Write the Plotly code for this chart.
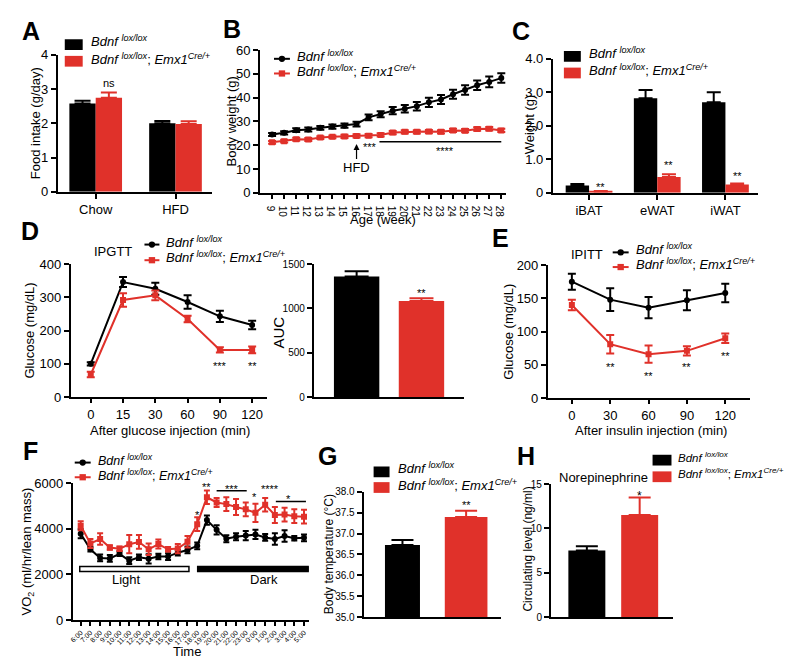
import plotly.graph_objects as go

W, H = 800, 671
FONT = "Arial, Liberation Sans, Helvetica, sans-serif"
BLACK = "#000000"
RED = "#E0312A"

CTRL_LABEL = "<i>Bdnf</i> <sup><i>lox/lox</i></sup>"
KO_LABEL = "<i>Bdnf</i> <sup><i>lox/lox</i></sup>; <i>Emx1</i><sup><i>Cre/+</i></sup>"

# ---------------- data ----------------
# A: food intake
a_cats = ["Chow", "HFD"]
a_ctrl = [2.58, 2.0]
a_ctrl_err = [0.08, 0.07]
a_ko = [2.75, 1.98]
a_ko_err = [0.15, 0.08]

# B: body weight
b_weeks = list(range(9, 29))
b_ctrl = [24.5, 25.2, 26.3, 26.6, 27.3, 27.8, 28.2, 28.9, 31.7, 33.0,
          34.5, 35.3, 36.4, 38.0, 39.2, 41.4, 43.2, 45.2, 46.6, 48.2]
b_ctrl_err = [0.6, 0.7, 0.8, 0.8, 0.8, 0.9, 0.9, 1.0, 1.2, 1.3,
              1.5, 1.6, 1.8, 1.9, 1.9, 1.9, 2.0, 2.0, 2.3, 2.0]
b_ko = [21.2, 21.7, 22.5, 22.4, 23.2, 23.5, 23.7, 23.9, 24.0, 24.3,
        25.3, 25.6, 25.6, 25.7, 25.6, 26.2, 26.1, 26.8, 26.9, 26.2]
b_ko_err = [0.6, 0.6, 0.6, 0.6, 0.6, 0.6, 0.7, 0.7, 0.7, 0.7,
            0.7, 0.7, 0.7, 0.7, 0.7, 0.7, 0.7, 0.7, 0.7, 0.7]

# C: fat pad weight
c_cats = ["iBAT", "eWAT", "iWAT"]
c_ctrl = [0.22, 2.82, 2.70]
c_ctrl_err = [0.04, 0.25, 0.30]
c_ko = [0.04, 0.47, 0.25]
c_ko_err = [0.01, 0.08, 0.03]

# D: IPGTT
d_times = ["0", "15", "30", "60", "90", "120"]
d_ctrl = [100, 346, 326, 286, 243, 217]
d_ctrl_err = [5, 15, 18, 20, 17, 13]
d_ko = [68, 292, 306, 235, 142, 142]
d_ko_err = [8, 20, 15, 10, 8, 10]
auc_groups = ["Bdnf lox/lox", "Bdnf lox/lox; Emx1 Cre/+"]
auc_vals = [1360, 1085]
auc_err = [60, 30]

# E: IPITT
e_times = [0, 30, 60, 90, 120]
e_ctrl = [175, 148, 136, 147, 158]
e_ctrl_err = [12, 17, 16, 15, 14]
e_ko = [140, 81, 66, 71, 90]
e_ko_err = [8, 14, 13, 7, 7]

# F: VO2
f_times = ["6:00", "7:00", "8:00", "9:00", "10:00", "11:00", "12:00", "13:00",
           "14:00", "15:00", "16:00", "17:00", "18:00", "19:00", "20:00", "21:00",
           "22:00", "23:00", "0:00", "1:00", "2:00", "3:00", "4:00", "5:00"]
f_ctrl = [3780, 3100, 2720, 2700, 2900, 2600, 2750, 2680, 2780, 2780, 2950, 3070,
          3250, 4380, 3950, 3560, 3650, 3700, 3750, 3620, 3550, 3680, 3580, 3600]
f_ctrl_err = [200, 100, 150, 150, 100, 150, 120, 200, 120, 150, 120, 150,
              150, 200, 200, 150, 150, 200, 200, 150, 250, 250, 100, 150]
f_ko = [4130, 3350, 3550, 3180, 3120, 3320, 3420, 3100, 3330, 3100, 3130, 3430,
        4200, 5380, 5150, 5080, 4950, 4850, 4700, 5050, 4600, 4620, 4550, 4530]
f_ko_err = [200, 200, 250, 100, 100, 400, 300, 250, 200, 100, 200, 250,
            300, 300, 200, 300, 350, 300, 400, 300, 350, 300, 300, 300]

# G: body temperature
g_groups = ["Bdnf lox/lox", "Bdnf lox/lox; Emx1 Cre/+"]
g_vals = [36.73, 37.40]
g_err = [0.12, 0.15]
g_base = 35

# H: norepinephrine
h_groups = ["Bdnf lox/lox", "Bdnf lox/lox; Emx1 Cre/+"]
h_vals = [7.5, 11.5]
h_err = [0.5, 2.0]

# ---------------- helpers ----------------
def xdom(l, r):
    return [l / W, r / W]


def ydom(top, bottom):
    return [1 - bottom / H, 1 - top / H]


def px(x):
    return x / W


def py(y):
    return 1 - y / H


def axis(dom, anchor, **kw):
    d = dict(domain=dom, anchor=anchor, showline=True, linecolor="black", linewidth=2,
             ticks="outside", ticklen=5, tickwidth=2, tickcolor="black",
             showgrid=False, zeroline=False, fixedrange=True,
             tickfont=dict(family=FONT, size=13, color="black"))
    d.update(kw)
    return d


def err(arr, color, w=6, lower=True):
    d = dict(type="data", array=arr, color=color, thickness=2, width=w, visible=True)
    if not lower:
        d["symmetric"] = False
        d["arrayminus"] = [0] * len(arr)
    return d


fig = go.Figure()
annotations = []
shapes = []


def text(x, y, s, size=13, xanchor="center", yanchor="middle", angle=0, bold=False, color="#000000"):
    if bold:
        s = "<b>" + s + "</b>"
    annotations.append(dict(x=px(x), y=py(y), xref="paper", yref="paper", text=s,
                            showarrow=False, xanchor=xanchor, yanchor=yanchor,
                            textangle=angle,
                            font=dict(family=FONT, size=size, color=color)))


def dtext(xr, yr, x, y, s, size=11, color="#000000"):
    annotations.append(dict(x=x, y=y, xref=xr, yref=yr, text=s, showarrow=False,
                            font=dict(family=FONT, size=size, color=color)))


def leg_square(x0, y0, x1, y1, color):
    shapes.append(dict(type="rect", xref="paper", yref="paper", x0=px(x0), x1=px(x1),
                       y0=py(y1), y1=py(y0), fillcolor=color, line=dict(width=0)))


def leg_line(x0, x1, y, color, symbol):
    shapes.append(dict(type="line", xref="paper", yref="paper", x0=px(x0), x1=px(x1),
                       y0=py(y), y1=py(y), line=dict(color=color, width=2)))
    cx = (x0 + x1) / 2
    r = 3.2
    shapes.append(dict(type="circle" if symbol == "circle" else "rect",
                       xref="paper", yref="paper", x0=px(cx - r), x1=px(cx + r),
                       y0=py(y + r), y1=py(y - r), fillcolor=color, line=dict(width=0)))


def leg_text(x, y, s, size=13):
    # superscripts enlarge the text box upward, so lift the anchor a little
    text(x, y - 3, s, size, "left")


def ko_ctrl_lines(xr, yr, x, yc, yc_err, yk, yk_err, cap=4):
    fig.add_trace(go.Scatter(x=x, y=yc, mode="lines+markers", xaxis=xr, yaxis=yr,
                             line=dict(color=BLACK, width=2),
                             marker=dict(symbol="circle", size=6, color=BLACK),
                             error_y=err(yc_err, BLACK, cap), showlegend=False))
    fig.add_trace(go.Scatter(x=x, y=yk, mode="lines+markers", xaxis=xr, yaxis=yr,
                             line=dict(color=RED, width=2),
                             marker=dict(symbol="square", size=6, color=RED),
                             error_y=err(yk_err, RED, cap), showlegend=False))


# ---------------- A ----------------
fig.add_trace(go.Bar(x=a_cats, y=a_ctrl, xaxis="x", yaxis="y", width=0.33, offset=-0.33,
                     marker=dict(color=BLACK, line=dict(width=0)),
                     error_y=err(a_ctrl_err, BLACK, 8, False), showlegend=False))
fig.add_trace(go.Bar(x=a_cats, y=a_ko, xaxis="x", yaxis="y", width=0.33, offset=0,
                     marker=dict(color=RED, line=dict(width=0)),
                     error_y=err(a_ko_err, RED, 8, False), showlegend=False))
dtext("x", "y", 0.165, 3.17, "ns", 11)

# ---------------- B ----------------
ko_ctrl_lines("x2", "y2", b_weeks, b_ctrl, b_ctrl_err, b_ko, b_ko_err)
annotations.append(dict(x=16, y=20.5, xref="x2", yref="y2", text="HFD", showarrow=True,
                        ax=0, ay=24, arrowhead=2, arrowsize=1, arrowwidth=1.2,
                        arrowcolor="black", font=dict(family=FONT, size=13, color="#000000")))
dtext("x2", "y2", 17.1, 19.2, "***", 11)
shapes.append(dict(type="line", xref="x2", yref="y2", x0=17.9, x1=28, y0=21.4, y1=21.4,
                   line=dict(color="black", width=1.5)))
dtext("x2", "y2", 23.3, 17.5, "****", 11)

# ---------------- C ----------------
fig.add_trace(go.Bar(x=c_cats, y=c_ctrl, xaxis="x3", yaxis="y3", width=0.343, offset=-0.343,
                     marker=dict(color=BLACK, line=dict(width=0)),
                     error_y=err(c_ctrl_err, BLACK, 7, False), showlegend=False))
fig.add_trace(go.Bar(x=c_cats, y=c_ko, xaxis="x3", yaxis="y3", width=0.343, offset=0,
                     marker=dict(color=RED, line=dict(width=0)),
                     error_y=err(c_ko_err, RED, 7, False), showlegend=False))
for i, yv in enumerate([0.16, 0.82, 0.5]):
    dtext("x3", "y3", i + 0.17, yv, "**", 11)

# ---------------- D ----------------
ko_ctrl_lines("x4", "y4", d_times, d_ctrl, d_ctrl_err, d_ko, d_ko_err)
dtext("x4", "y4", 4, 93, "***", 11)
dtext("x4", "y4", 5, 93, "**", 11)

fig.add_trace(go.Bar(x=auc_groups[:1], y=auc_vals[:1], xaxis="x5", yaxis="y5", width=0.7,
                     marker=dict(color=BLACK, line=dict(width=0)),
                     error_y=err(auc_err[:1], BLACK, 12, False), showlegend=False))
fig.add_trace(go.Bar(x=auc_groups[1:], y=auc_vals[1:], xaxis="x5", yaxis="y5", width=0.7,
                     marker=dict(color=RED, line=dict(width=0)),
                     error_y=err(auc_err[1:], RED, 12, False), showlegend=False))
dtext("x5", "y5", 1, 1170, "**", 11)

# ---------------- E ----------------
ko_ctrl_lines("x6", "y6", e_times, e_ctrl, e_ctrl_err, e_ko, e_ko_err)
for xv, yv in zip([30, 60, 90, 120], [46, 33, 46, 63]):
    dtext("x6", "y6", xv, yv, "**", 11)

# ---------------- F ----------------
ko_ctrl_lines("x7", "y7", f_times, f_ctrl, f_ctrl_err, f_ko, f_ko_err, cap=3)
shapes.append(dict(type="rect", xref="x7", yref="y7", x0=-0.1, x1=11.15, y0=2120, y1=2340,
                   fillcolor="white", line=dict(color="black", width=1.5)))
shapes.append(dict(type="rect", xref="x7", yref="y7", x0=12.05, x1=23.5, y0=2120, y1=2340,
                   fillcolor="black", line=dict(color="black", width=1.5)))
dtext("x7", "y7", 4.7, 1770, "Light", 13)
dtext("x7", "y7", 18.9, 1770, "Dark", 13)
shapes.append(dict(type="line", xref="x7", yref="y7", x0=14.0, x1=17.1, y0=5660, y1=5660,
                   line=dict(color="black", width=1.5)))
shapes.append(dict(type="line", xref="x7", yref="y7", x0=20.1, x1=23.2, y0=5190, y1=5190,
                   line=dict(color="black", width=1.5)))
dtext("x7", "y7", 12, 4600, "*", 11)
dtext("x7", "y7", 13, 5850, "**", 11)
dtext("x7", "y7", 15.6, 5740, "***", 11)
dtext("x7", "y7", 17.9, 5370, "*", 11)
dtext("x7", "y7", 19.5, 5740, "****", 11)
dtext("x7", "y7", 21.4, 5310, "*", 11)

# ---------------- G ----------------
fig.add_trace(go.Bar(x=g_groups[:1], y=[v - g_base for v in g_vals[:1]], base=g_base,
                     xaxis="x8", yaxis="y8", width=0.55,
                     marker=dict(color=BLACK, line=dict(width=0)),
                     error_y=err(g_err[:1], BLACK, 11, False), showlegend=False))
fig.add_trace(go.Bar(x=g_groups[1:], y=[v - g_base for v in g_vals[1:]], base=g_base,
                     xaxis="x8", yaxis="y8", width=0.67,
                     marker=dict(color=RED, line=dict(width=0)),
                     error_y=err(g_err[1:], RED, 11, False), showlegend=False))
dtext("x8", "y8", 1, 37.68, "**", 11)

# ---------------- H ----------------
fig.add_trace(go.Bar(x=h_groups[:1], y=h_vals[:1], xaxis="x9", yaxis="y9", width=0.7,
                     marker=dict(color=BLACK, line=dict(width=0)),
                     error_y=err(h_err[:1], BLACK, 11, False), showlegend=False))
fig.add_trace(go.Bar(x=h_groups[1:], y=h_vals[1:], xaxis="x9", yaxis="y9", width=0.7,
                     marker=dict(color=RED, line=dict(width=0)),
                     error_y=err(h_err[1:], RED, 11, False), showlegend=False))
dtext("x9", "y9", 1, 13.7, "*", 12)

# ---------------- legends & labels ----------------
# A
leg_square(62, 33, 80, 44, BLACK)
leg_square(62, 50, 80, 61, RED)
leg_text(86, 38, CTRL_LABEL)
leg_text(86, 56, KO_LABEL)
# B
leg_line(272, 288, 53, BLACK, "circle")
leg_line(272, 288, 68, RED, "square")
leg_text(293, 53, CTRL_LABEL)
leg_text(293, 68, KO_LABEL)
# C
leg_square(563, 45, 580, 56, BLACK)
leg_square(563, 62, 580, 73, RED)
leg_text(586, 50, CTRL_LABEL)
leg_text(586, 67, KO_LABEL)
# D
text(110, 250, "IPGTT", 13)
leg_line(142, 157, 243, BLACK, "circle")
leg_line(142, 157, 259, RED, "square")
leg_text(162, 243, CTRL_LABEL)
leg_text(162, 259, KO_LABEL)
# E
text(586, 253, "IPITT", 13)
leg_line(612, 628, 251, BLACK, "circle")
leg_line(612, 628, 266, RED, "square")
leg_text(633, 251, CTRL_LABEL)
leg_text(633, 266, KO_LABEL)
# F
leg_line(72, 88, 466, BLACK, "circle")
leg_line(72, 88, 481, RED, "square")
leg_text(93, 466, CTRL_LABEL, 12.5)
leg_text(93, 482, KO_LABEL, 12.5)
# G
leg_square(372, 470, 388, 481, BLACK)
leg_square(372, 486, 388, 497, RED)
leg_text(394, 475, CTRL_LABEL)
leg_text(394, 492, KO_LABEL)
# H
text(603, 481, "Norepinephrine", 13)
leg_square(652, 458, 671, 469, BLACK)
leg_square(652, 475, 671, 486, RED)
leg_text(676, 463, CTRL_LABEL, 11.5)
leg_text(676, 480, KO_LABEL, 11.5)

# panel letters
for L, x, y in [("A", 28, 25), ("B", 230, 23), ("C", 520, 25), ("D", 27, 229),
                ("E", 499, 236), ("F", 28, 454), ("G", 326, 459), ("H", 525, 459)]:
    text(x, y, L, 25, bold=True)

# axis titles
text(32, 119, "Food intake (g/day)", 13, angle=-90)
text(229, 117, "Body weight (g)", 13, angle=-90)
text(528, 120, "Weight (g)", 13, angle=-90)
text(27, 331, "Glucose (mg/dL)", 13, angle=-90)
text(277, 333, "AUC", 15, angle=-90)
text(507, 332, "Glucose (mg/dL)", 13, angle=-90)
text(25, 557, "VO<sub>2</sub> (ml/hr/lean mass)", 13, angle=-90)
text(328, 560, "Body temperature (°C)", 12, angle=-90)
text(527, 555, "Circulating level (ng/ml)", 12, angle=-90)
text(381, 217, "Age (week)", 13)
text(168, 433, "After glucose injection (min)", 13)
text(650, 433, "After insulin injection (min)", 13)
text(185, 659, "Time", 13)

small = dict(family=FONT, size=10, color="black")

fig.update_layout(
    width=W, height=H, margin=dict(l=0, r=0, t=0, b=0),
    paper_bgcolor="white", plot_bgcolor="white", barmode="overlay",
    showlegend=False, font=dict(family=FONT, color="black"),
    # A
    xaxis=axis(xdom(55, 210), "y", type="category", range=[-0.475, 1.46]),
    yaxis=axis(ydom(49, 189), "x", range=[0, 4], tickvals=[0, 1, 2, 3, 4]),
    # B
    xaxis2=axis(xdom(258, 505), "y2", range=[8.0, 28.4], tickvals=b_weeks, tickfont=small,
                ticklen=4),
    yaxis2=axis(ydom(44, 190), "x2", range=[0, 60], tickvals=[0, 10, 20, 30, 40, 50, 60]),
    # C
    xaxis3=axis(xdom(552, 758), "y3", type="category", range=[-0.53, 2.48]),
    yaxis3=axis(ydom(53, 190), "x3", range=[0, 4], tickvals=[0, 1, 2, 3, 4],
                ticktext=["0", "1.0", "2.0", "3.0", "4.0"]),
    # D left
    xaxis4=axis(xdom(68, 265), "y4", type="category", range=[-0.62, 5.46], ticklen=4),
    yaxis4=axis(ydom(263, 399), "x4", range=[0, 400], tickvals=[0, 100, 200, 300, 400]),
    # D right AUC
    xaxis5=axis(xdom(312, 463), "y5", type="category", range=[-0.66, 1.66],
                showticklabels=False, ticks=""),
    yaxis5=axis(ydom(263, 399), "x5", range=[0, 1500], tickvals=[0, 500, 1000, 1500],
                tickfont=small),
    # E
    xaxis6=axis(xdom(547, 750), "y6", range=[-18.7, 139.5], tickvals=e_times, ticklen=4),
    yaxis6=axis(ydom(264, 400), "x6", range=[0, 200], tickvals=[0, 50, 100, 150, 200]),
    # F
    xaxis7=axis(xdom(70, 307), "y7", type="category", range=[-0.82, 23.5], tickangle=-45,
                ticklen=4, tickfont=dict(family=FONT, size=7, color="black")),
    yaxis7=axis(ydom(487, 627), "x7", range=[0, 6000], tickvals=[0, 2000, 4000, 6000]),
    # G
    xaxis8=axis(xdom(362, 500), "y8", type="category", range=[-0.61, 1.55],
                showticklabels=False, ticks=""),
    yaxis8=axis(ydom(496, 624), "x8", range=[35, 38],
                tickvals=[35, 35.5, 36, 36.5, 37, 37.5, 38], tickformat=".1f", tickfont=small),
    # H
    xaxis9=axis(xdom(550, 673), "y9", type="category", range=[-0.68, 1.64],
                showticklabels=False, ticks=""),
    yaxis9=axis(ydom(488, 624), "x9", range=[0, 15], tickvals=[0, 5, 10, 15], tickfont=small),
    annotations=annotations,
    shapes=shapes,
)

fig.write_html("out.html", config={"displayModeBar": False},
               post_script="document.body.style.margin='0';document.body.style.overflow='hidden';")
